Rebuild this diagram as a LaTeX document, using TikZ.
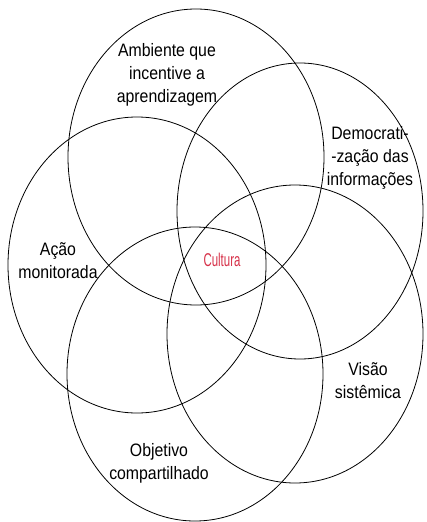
\documentclass[tikz,border=0pt]{standalone}
\usepackage{fontspec}
\setmainfont{Liberation Sans}[FakeStretch=0.88]
\newfontfamily\culturafont{Liberation Sans}[FakeStretch=0.62]
\definecolor{culturared}{RGB}{214,48,72}
\tikzset{
  petal/.style={draw=black, line width=0.8pt},
  rotulo/.style={align=center, font=\fontsize{18}{23}\selectfont, inner sep=0pt}
}
\begin{document}
\begin{tikzpicture}[x=1pt, y=-1pt]
      \useasboundingbox (0, 0) rectangle (427, 522);

      \draw[petal] (196, 157) ellipse [x radius=128pt, y radius=148pt];
      \draw[petal] (300, 211) ellipse [x radius=123pt, y radius=148pt];
      \draw[petal] (137, 265) ellipse [x radius=129pt, y radius=148pt];
      \draw[petal] (295, 334) ellipse [x radius=128pt, y radius=149pt];
      \draw[petal] (195, 374) ellipse [x radius=128pt, y radius=147pt];

      \node[rotulo] (ambiente) at (167, 75) {Ambiente que\\incentive a\\aprendizagem};
      \node[rotulo] (democratizacao) at (370, 158) {Democrati-\\-zação das\\informações};
      \node[rotulo] (acao) at (58, 261) {Ação\\monitorada};
      \node[rotulo] (visao) at (368, 381) {Visão\\sistêmica};
      \node[rotulo] (objetivo) at (159, 463) {Objetivo\\compartilhado};
      \node[inner sep=0pt, text=culturared, font=\culturafont\fontsize{18.5}{20}\selectfont] (cultura) at (222, 260) {Cultura};
    \end{tikzpicture}
\end{document}
